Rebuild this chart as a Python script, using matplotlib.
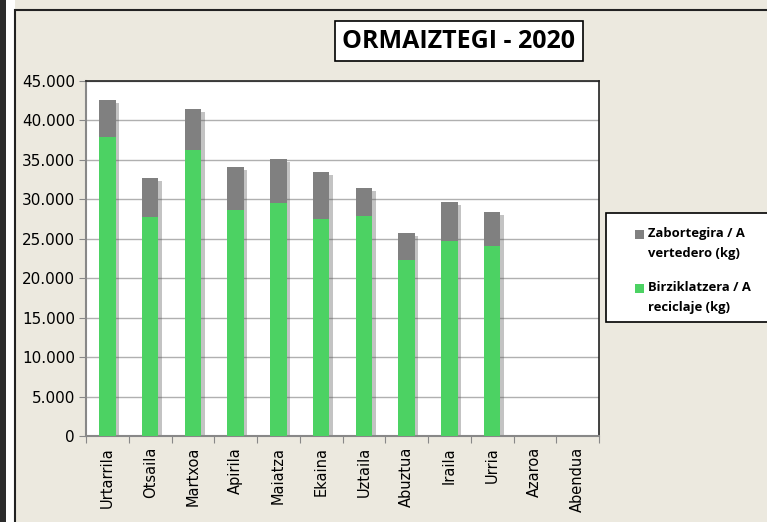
import numpy as np
import matplotlib.pyplot as plt
from matplotlib.patches import Rectangle
from matplotlib.ticker import FuncFormatter
import matplotlib.patheffects as pe

# datos
hilabeteak = ['Urtarrila', 'Otsaila', 'Martxoa', 'Apirila', 'Maiatza', 'Ekaina',
              'Uztaila', 'Abuztua', 'Iraila', 'Urria', 'Azaroa', 'Abendua']
birziklatzera = [37900, 27800, 36300, 28600, 29500, 27500, 27900, 22300, 24700, 24100, 0, 0]
guztira = [42600, 32700, 41450, 34100, 35100, 33500, 31400, 25700, 29600, 28400, 0, 0]
zabortegira = [t - b for t, b in zip(guztira, birziklatzera)]
etiketak = ['Zabortegira / A\nvertedero (kg)', 'Birziklatzera / A\nreciclaje (kg)']

berdea = '#4CD263'
grisa = '#808080'
fondo = '#ECE9DF'

fig = plt.figure(figsize=(7.67, 5.22), dpi=100, facecolor=fondo)

# marcos exteriores
fig.patches.append(Rectangle((0, 0), 6/767, 1, transform=fig.transFigure,
                             facecolor='#2b2b2b', edgecolor='none', zorder=0))
fig.patches.append(Rectangle((6/767, 0), 9/767, 1, transform=fig.transFigure,
                             facecolor='white', edgecolor='none', zorder=0))
fig.patches.append(Rectangle((15/767, -0.01), 1, 1 - 10/522 + 0.01, transform=fig.transFigure,
                             facecolor='none', edgecolor='#222222', linewidth=1.5, zorder=1))

ax = fig.add_axes([86/767, 1 - 436/522, 513/767, 355/522])
ax.set_facecolor('white')

x = np.arange(len(hilabeteak))
sombra = [pe.SimplePatchShadow(offset=(2.5, -2), shadow_rgbFace='#555555', alpha=0.35), pe.Normal()]
fondo_barras = ax.bar(x, guztira, width=0.39, color='white', zorder=2)
for r in fondo_barras:
    r.set_path_effects(sombra)
b1 = ax.bar(x, birziklatzera, width=0.39, color=berdea, zorder=3)
b2 = ax.bar(x, zabortegira, width=0.39, bottom=birziklatzera, color=grisa, zorder=3)

ax.set_xlim(-0.5, 11.5)
ax.set_ylim(0, 45000)
ax.set_yticks(np.arange(0, 45001, 5000))
ax.yaxis.set_major_formatter(FuncFormatter(lambda v, p: f'{int(v):,}'.replace(',', '.')))
ax.grid(axis='y', color='#b0b0b0', linewidth=1, zorder=0)

ax.set_xticks(np.arange(-0.5, 12, 1))
ax.set_xticklabels([])
ax.set_xticks(x, minor=True)
ax.set_xticklabels(hilabeteak, minor=True, rotation=90, fontsize=10.5, family='DejaVu Sans')
ax.tick_params(axis='x', which='minor', length=0, pad=8)
ax.tick_params(axis='x', which='major', length=5, color='#888888', direction='out')
ax.tick_params(axis='y', length=5, color='#888888', labelsize=11, pad=3)

for s in ['left', 'bottom']:
    ax.spines[s].set_color('#888888')
    ax.spines[s].set_linewidth(1.5)
for s in ['top', 'right']:
    ax.spines[s].set_color('#222222')
    ax.spines[s].set_linewidth(1.2)

# titulo
fig.text(459/767, 1 - 41/522, 'ORMAIZTEGI - 2020', ha='center', va='center',
         fontsize=18, fontweight='bold', family='Open Sans',
         bbox=dict(boxstyle='square,pad=0.3', facecolor='white', edgecolor='black', linewidth=1.2))

# leyenda (a mano, cuadro pegado al primer renglón)
fig.patches.append(Rectangle((606/767, 1 - 322/522), 170/767, 109/522, transform=fig.transFigure,
                             facecolor='white', edgecolor='black', linewidth=1.2, zorder=2))
for i, (txt, col) in enumerate(zip(etiketak, [grisa, berdea])):
    y0 = 227 + i * 54
    fig.patches.append(Rectangle((635/767, 1 - (y0 + 12)/522), 9/767, 9/522, transform=fig.transFigure,
                                 facecolor=col, edgecolor='none', zorder=3))
    fig.text(648/767, 1 - y0/522, txt, ha='left', va='top', fontsize=9.4, fontweight='bold',
             family='Open Sans', linespacing=1.75, zorder=4)

fig.savefig('out.png', dpi=100, facecolor=fondo)
